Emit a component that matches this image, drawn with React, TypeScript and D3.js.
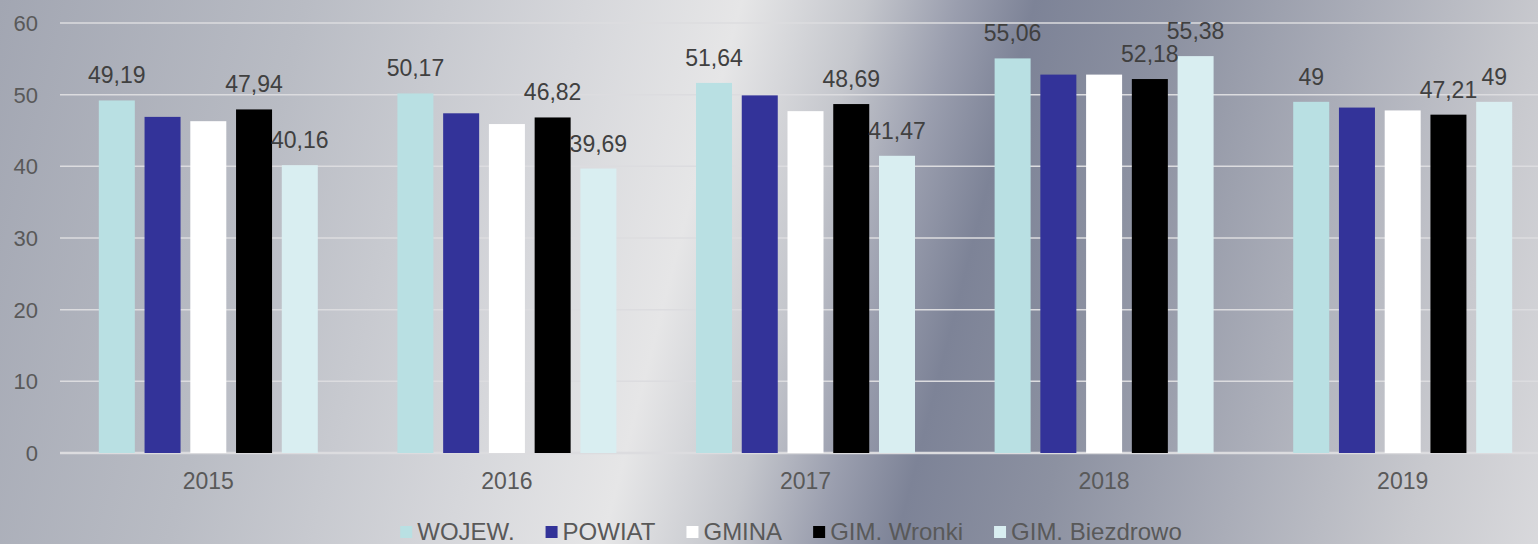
import React, { useEffect, useRef } from 'react';
import * as d3 from 'd3';

// Chart data
const years = ['2015', '2016', '2017', '2018', '2019'];
const seriesNames = ['WOJEW.', 'POWIAT', 'GMINA', 'GIM. Wronki', 'GIM. Biezdrowo'];
const wojew = [49.19, 50.17, 51.64, 55.06, 49];
const powiat = [46.9, 47.4, 49.9, 52.8, 48.2];
const gmina = [46.3, 45.9, 47.7, 52.8, 47.8];
const wronki = [47.94, 46.82, 48.69, 52.18, 47.21];
const biezdrowo = [40.16, 39.69, 41.47, 55.38, 49];
const seriesValues = [wojew, powiat, gmina, wronki, biezdrowo];
const seriesColors = ['#b9e0e3', '#333399', '#ffffff', '#000000', '#d9eef1'];
const labelledSeries = [true, false, false, true, true];
const yTicks = [0, 10, 20, 30, 40, 50, 60];

const W = 1538;
const H = 544;
const font = '"Liberation Sans", Arial, sans-serif';

function App() {
    const ref = useRef<SVGSVGElement>(null);

    useEffect(() => {
        const svg = d3.select(ref.current).html('')
            .attr('width', W)
            .attr('height', H);

        // Metallic background, slightly tilted gradient
        const defs = svg.append('defs');
        const grad = defs.append('linearGradient')
            .attr('id', 'bg')
            .attr('gradientUnits', 'userSpaceOnUse')
            .attr('x1', 0).attr('y1', 0).attr('x2', 1600).attr('y2', 411);
        const stops: [number, string][] = [
            [0, '#a2a6b2'], [0.18, '#b9bcc4'], [0.344, '#d6d7db'], [0.435, '#e6e6e7'],
            [0.508, '#c4c6cc'], [0.562, '#9a9eae'], [0.607, '#7d8397'], [0.689, '#8c91a1'],
            [0.798, '#aaadb8'], [0.906, '#c8c9ce'], [1, '#dcdcdf'],
        ];
        stops.forEach(([o, c]) => grad.append('stop').attr('offset', o).attr('stop-color', c));
        svg.append('rect').attr('width', W).attr('height', H).attr('fill', 'url(#bg)');

        // Scales
        const x0 = d3.scaleBand<string>()
            .domain(years)
            .range([59, 1552])
            .paddingInner(0.234)
            .paddingOuter(0.117);
        const x1 = d3.scaleBand<number>()
            .domain(d3.range(seriesNames.length))
            .range([0, x0.bandwidth()])
            .paddingInner(0.213)
            .paddingOuter(0.1065);
        const y = d3.scaleLinear().domain([0, 60]).range([453, 23]);

        // Gridlines
        svg.append('g').selectAll('line')
            .data(yTicks)
            .enter().append('line')
            .attr('x1', 60).attr('x2', W)
            .attr('y1', (d) => y(d)).attr('y2', (d) => y(d))
            .attr('stroke', '#dcdcdf')
            .attr('stroke-width', (d) => (d === 0 ? 2.5 : 1.5));

        // Y tick labels
        svg.append('g').selectAll('text')
            .data(yTicks)
            .enter().append('text')
            .attr('x', 38)
            .attr('y', (d) => y(d) + 8)
            .attr('text-anchor', 'end')
            .attr('font-family', font)
            .attr('font-size', 22)
            .attr('fill', '#595959')
            .text((d) => d);

        // Bars
        const groups = svg.append('g').selectAll('g')
            .data(years)
            .enter().append('g')
            .attr('transform', (d) => `translate(${x0(d)},0)`);

        groups.selectAll('rect')
            .data((_, i) => seriesValues.map((vals, s) => ({ s, v: vals[i] })))
            .enter().append('rect')
            .attr('x', (d) => x1(d.s)!)
            .attr('y', (d) => y(d.v))
            .attr('width', x1.bandwidth())
            .attr('height', (d) => y(0) - y(d.v))
            .attr('fill', (d) => seriesColors[d.s]);

        // Data labels (only some series carry them)
        groups.selectAll('text')
            .data((_, i) => seriesValues
                .map((vals, s) => ({ s, v: vals[i] }))
                .filter((d) => labelledSeries[d.s]))
            .enter().append('text')
            .attr('x', (d) => x1(d.s)! + x1.bandwidth() / 2)
            .attr('y', (d) => y(d.v) - 17)
            .attr('text-anchor', 'middle')
            .attr('font-family', font)
            .attr('font-size', 23)
            .attr('fill', '#404040')
            .text((d) => String(d.v).replace('.', ','));

        // Year labels
        svg.append('g').selectAll('text')
            .data(years)
            .enter().append('text')
            .attr('x', (d) => x0(d)! + x0.bandwidth() / 2)
            .attr('y', 489)
            .attr('text-anchor', 'middle')
            .attr('font-family', font)
            .attr('font-size', 23)
            .attr('fill', '#595959')
            .text((d) => d);

        // Legend
        const legend = svg.append('g');
        const gap = 31;
        let cursor = 0;
        seriesNames.forEach((name, i) => {
            const g = legend.append('g').attr('transform', `translate(${cursor},0)`);
            g.append('rect')
                .attr('x', 0).attr('y', -14)
                .attr('width', 12).attr('height', 12)
                .attr('fill', seriesColors[i]);
            const t = g.append('text')
                .attr('x', 17).attr('y', 0)
                .attr('font-family', font)
                .attr('font-size', 24)
                .attr('fill', '#595959')
                .text(name);
            cursor += 17 + (t.node() as SVGTextElement).getComputedTextLength() + gap;
        });
        const total = cursor - gap;
        legend.attr('transform', `translate(${791 - total / 2},540)`);
    }, []);

    return (
        <div style={{ position: 'absolute', left: 0, top: 0 }}>
            <svg ref={ref} style={{ display: 'block' }}></svg>
        </div>
    );
}

export default App;
